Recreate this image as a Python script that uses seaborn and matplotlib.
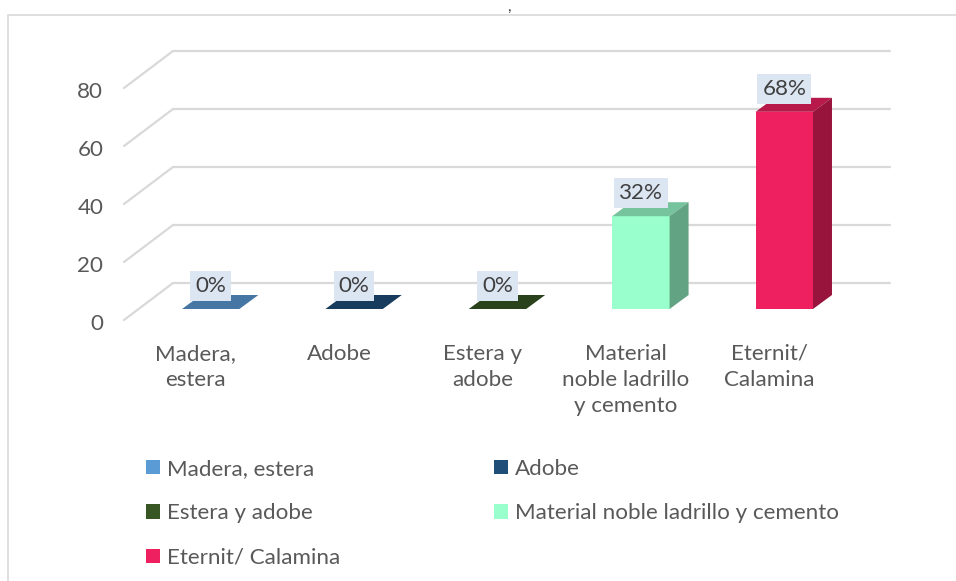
import numpy as np
import pandas as pd
import matplotlib
matplotlib.use("Agg")
import matplotlib.pyplot as plt
import seaborn as sns
from matplotlib.patches import Polygon, Patch, Rectangle
from matplotlib.lines import Line2D
from matplotlib.transforms import ScaledTranslation
import matplotlib.colors as mcolors

# ---- data ----
categories = ["Madera, estera", "Adobe", "Estera y adobe",
              "Material noble ladrillo y cemento", "Eternit/ Calamina"]
tick_labels = ["Madera,\nestera", "Adobe", "Estera y\nadobe",
               "Material\nnoble ladrillo\ny cemento", "Eternit/\nCalamina"]
values = [0, 0, 0, 32, 68]
value_labels = ["0%", "0%", "0%", "32%", "68%"]
colors = ["#5B9BD5", "#1F4E79", "#375623", "#99FFCC", "#EE2060"]
y_ticks = [0, 20, 40, 60, 80]

sns.set_style("white")
plt.rcParams["font.family"] = ["Lato", "DejaVu Sans"]

FS = 16.1
TICK_C = "#595959"
GRID_C = "#D9D9D9"

W, H = 956, 581
fig = plt.figure(figsize=(W / 100, H / 100), dpi=100)
ax = fig.add_axes([139 / W, (H - 309) / H, 717 / W, 232 / H])

df = pd.DataFrame({"cat": categories, "val": values})
sns.barplot(data=df, x="cat", y="val", hue="cat", palette=colors,
            width=0.4, saturation=1, legend=False, ax=ax, zorder=3)
ax.set_xlim(-0.5, len(categories) - 0.5)
ax.set_ylim(0, 80)
for s in ax.spines.values():
    s.set_visible(False)
ax.set_facecolor("none")
ax.set_xlabel("")
ax.set_ylabel("")


def shift(x, y, dx, dy):
    d = ax.transData.transform((x, y)) + np.array([dx, dy]) * fig.dpi / 100
    return ax.transData.inverted().transform(d)


# depth offsets in pixels (display: up is positive)
BACK = (34, 26)
FRONT = (-15, -11)
BAR_D = (19, 14)

x0, x1 = ax.get_xlim()
for v in y_ticks:
    a = shift(x0, v, *BACK)
    b = shift(x1, v, *BACK)
    f = shift(x0, v, *FRONT)
    ax.add_line(Line2D([a[0], b[0]], [a[1], b[1]], color=GRID_C, lw=1.6,
                       zorder=1, clip_on=False))
    ax.add_line(Line2D([f[0], a[0]], [f[1], a[1]], color=GRID_C, lw=1.6,
                       zorder=1, clip_on=False))


def darken(c, k):
    r, g, b, _ = mcolors.to_rgba(c)
    return (r * k, g * k, b * k)


for p in list(ax.patches):
    px0 = p.get_x()
    px1 = px0 + p.get_width()
    h = p.get_height()
    fc = p.get_facecolor()
    p.set_edgecolor("none")
    top = [(px0, h), (px1, h), tuple(shift(px1, h, *BAR_D)), tuple(shift(px0, h, *BAR_D))]
    ax.add_patch(Polygon(top, closed=True, facecolor=darken(fc, 0.77),
                         edgecolor="none", zorder=3, clip_on=False))
    if h > 0:
        side = [(px1, 0), (px1, h), tuple(shift(px1, h, *BAR_D)), tuple(shift(px1, 0, *BAR_D))]
        ax.add_patch(Polygon(side, closed=True, facecolor=darken(fc, 0.64),
                             edgecolor="none", zorder=3, clip_on=False))

# data labels
for i, (v, lab) in enumerate(zip(values, value_labels)):
    ax.annotate(lab, (i, v), xytext=(0, 16.5), textcoords="offset points",
                ha="center", va="center", fontsize=FS, color="#404040",
                zorder=5, annotation_clip=False,
                bbox=dict(boxstyle="square,pad=0.22", facecolor="#DCE6F2",
                          edgecolor="none"))

# axes ticks
ax.set_yticks(y_ticks)
ax.set_yticklabels([str(t) for t in y_ticks])
ax.set_xticks(range(len(categories)))
ax.set_xticklabels(tick_labels, linespacing=1.38)
ax.tick_params(axis="y", length=0, pad=15, labelsize=FS, labelcolor=TICK_C)
ax.tick_params(axis="x", length=0, pad=25, labelsize=FS, labelcolor=TICK_C)
ax.grid(False)
off_front = ScaledTranslation(FRONT[0] / 100, (FRONT[1] - 2) / 100, fig.dpi_scale_trans)
for lab in ax.get_yticklabels():
    lab.set_transform(lab.get_transform() + off_front)
off_x = ScaledTranslation(FRONT[0] / 100, 0, fig.dpi_scale_trans)
for lab in ax.get_xticklabels():
    lab.set_transform(lab.get_transform() + off_x)

# legend (row-major order in 2 columns)
handles = [Patch(facecolor=c, edgecolor="none") for c in colors]
order = [0, 2, 4, 1, 3]
fig.legend([handles[i] for i in order], [categories[i] for i in order],
           loc="upper left", bbox_to_anchor=(146 / W, (H - 459) / H),
           ncol=2, frameon=False, fontsize=FS, labelcolor=TICK_C,
           handlelength=0.63, handleheight=0.63, handletextpad=0.3,
           columnspacing=6.88, labelspacing=1.09, borderpad=0, borderaxespad=0)

# chart frame
fig.add_artist(Rectangle((8 / W, -0.05), 1.2, (H - 15) / H + 0.05,
                         transform=fig.transFigure, fill=False,
                         edgecolor=GRID_C, lw=1.2))
# remnant of a cut-off title
fig.text(509 / W, 1.0, ",", fontsize=11, color="#404040", ha="center", va="top")

fig.savefig("out.png", dpi=100)
